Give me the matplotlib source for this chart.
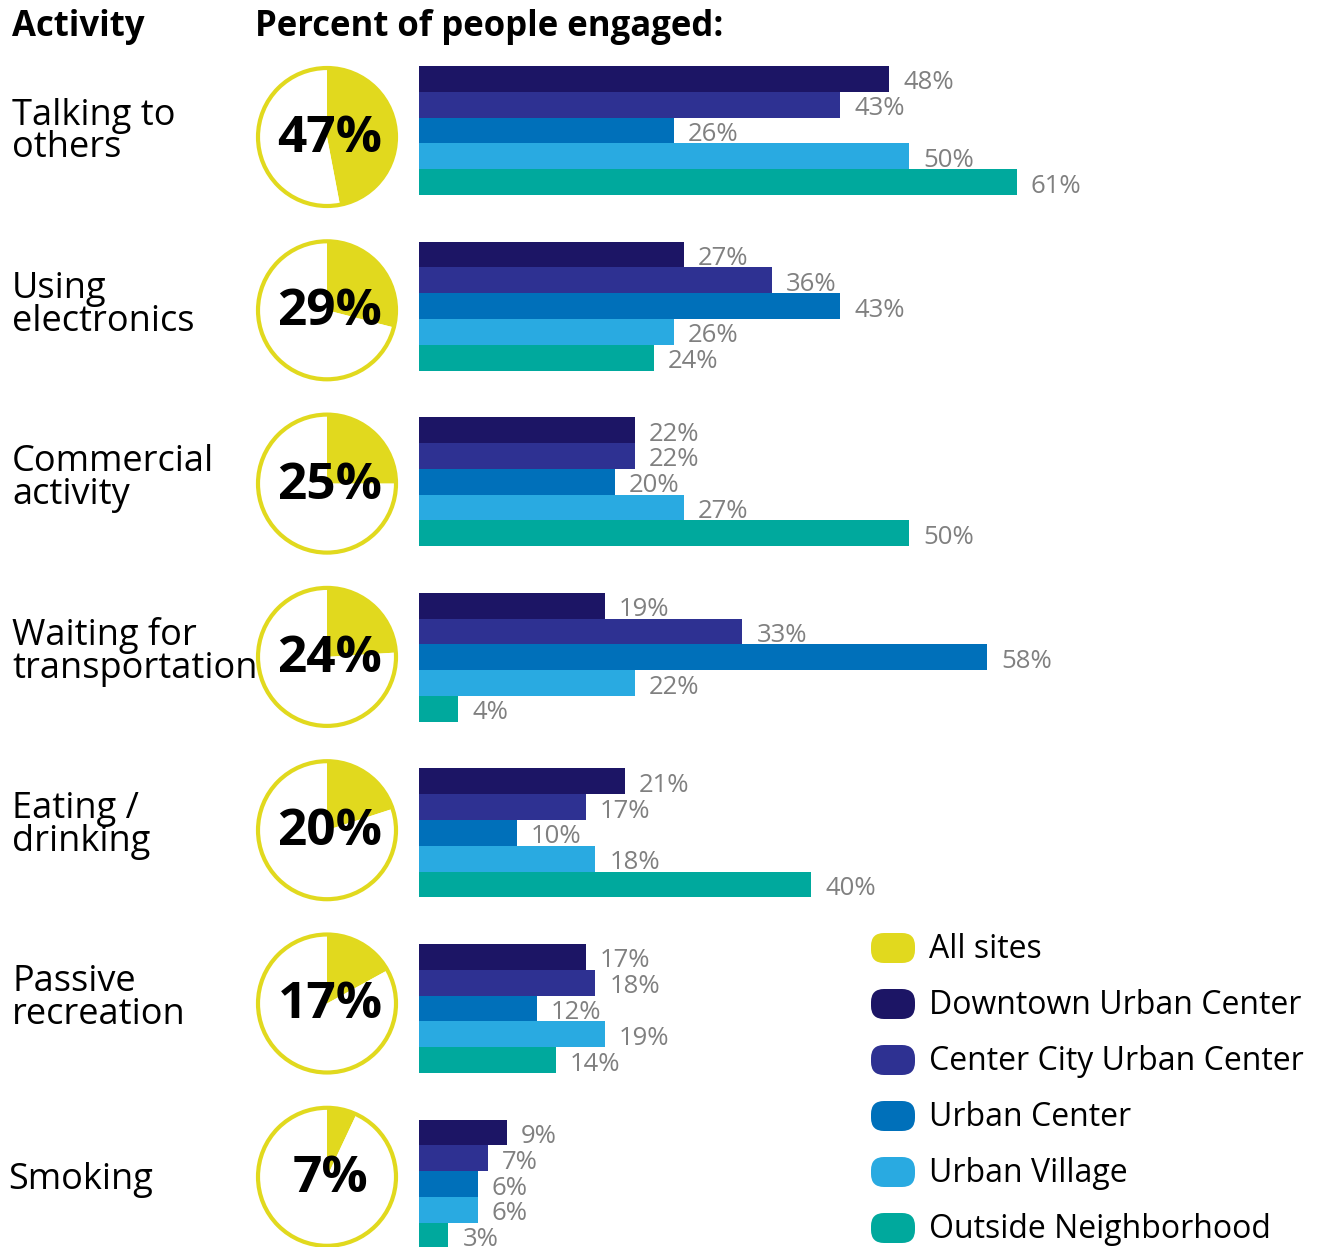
import matplotlib
matplotlib.use("Agg")
import matplotlib.pyplot as plt
from matplotlib.patches import Circle, FancyBboxPatch

plt.rcParams['font.family'] = ['Open Sans', 'DejaVu Sans']

activities = ["Talking to\nothers", "Using\nelectronics", "Commercial\nactivity",
              "Waiting for\ntransportation", "Eating /\ndrinking", "Passive\nrecreation", "Smoking"]
all_sites = [47, 29, 25, 24, 20, 17, 7]
series_names = ["Downtown Urban Center", "Center City Urban Center", "Urban Center",
                "Urban Village", "Outside Neighborhood"]
downtown = [48, 27, 22, 19, 21, 17, 9]
center_city = [43, 36, 22, 33, 17, 18, 7]
urban_center = [26, 43, 20, 58, 10, 12, 6]
urban_village = [50, 26, 27, 22, 18, 19, 6]
outside = [61, 24, 50, 4, 40, 14, 3]

series = [downtown, center_city, urban_center, urban_village, outside]
colors = ["#1C1565", "#2E3192", "#0070BA", "#29AAE1", "#00A99D"]
yellow = "#E1D91E"
gray = "#808080"

W, H = 1317, 1247
fig = plt.figure(figsize=(W / 100, H / 100), dpi=100)

# pixel canvas for text
cv = fig.add_axes([0, 0, 1, 1])
cv.set_xlim(0, W)
cv.set_ylim(H, 0)
cv.axis('off')

# bar axes: 0% at x=419px, 9.8 px per percent
px_per = 9.8
x0 = 419
bx = fig.add_axes([0, 0, 1, 1], facecolor='none')
bx.set_xlim(-x0 / px_per, (W - x0) / px_per)
bx.set_ylim(H, 0)
bx.axis('off')

group_top = 66
group_step = 175.6
bar_step = 25.8
for g in range(len(activities)):
    for i, s in enumerate(series):
        yc = group_top + g * group_step + bar_step / 2 + i * bar_step
        v = s[g]
        bx.barh(yc, v, height=bar_step, left=0, color=colors[i], edgecolor='none')
        bx.text(v + 14 / px_per, yc + 4, f"{v}%", color=gray, fontsize=18.5,
                va='center', ha='left')

# pies
pie_c0 = 137
pie_step = 173.3
pie_cx = 327
R = 71
half = 78
for g, v in enumerate(all_sites):
    cy = pie_c0 + g * pie_step
    pa = fig.add_axes([(pie_cx - half) / W, 1 - (cy + half) / H, 2 * half / W, 2 * half / H])
    pa.pie([v, 100 - v], colors=[yellow, 'white'], startangle=90, counterclock=False,
           radius=R - 2, wedgeprops=dict(edgecolor='none', linewidth=0))
    pa.add_patch(Circle((0, 0), R - 2, fill=False, edgecolor=yellow, linewidth=3))
    pa.set_xlim(-half, half)
    pa.set_ylim(-half, half)
    pa.set_aspect('equal')
    pa.axis('off')
    pa.text(3, -2, f"{v}%", fontsize=37, fontweight='bold', ha='center', va='center',
            color='black')
    two_line = "\n" in activities[g]
    cv.text(12 if two_line else 8, cy - 5 if two_line else cy + 3, activities[g],
            fontsize=26, ha='left', va='center', linespacing=0.88, color='black')

cv.text(12, 27, "Activity", fontsize=25, fontweight='bold', ha='left', va='center')
cv.text(255, 27, "Percent of people engaged:", fontsize=25, fontweight='bold',
        ha='left', va='center')

# legend
leg_names = ["All sites"] + series_names
leg_colors = [yellow] + colors
for k, (n, c) in enumerate(zip(leg_names, leg_colors)):
    yc = 948 + k * 56
    cv.add_patch(FancyBboxPatch((871, yc - 15), 44, 30, boxstyle="round,pad=0,rounding_size=13",
                                facecolor=c, edgecolor='none'))
    cv.text(929, yc + 1, n, fontsize=23, ha='left', va='center', color='black')

fig.savefig("out.png", dpi=100)
